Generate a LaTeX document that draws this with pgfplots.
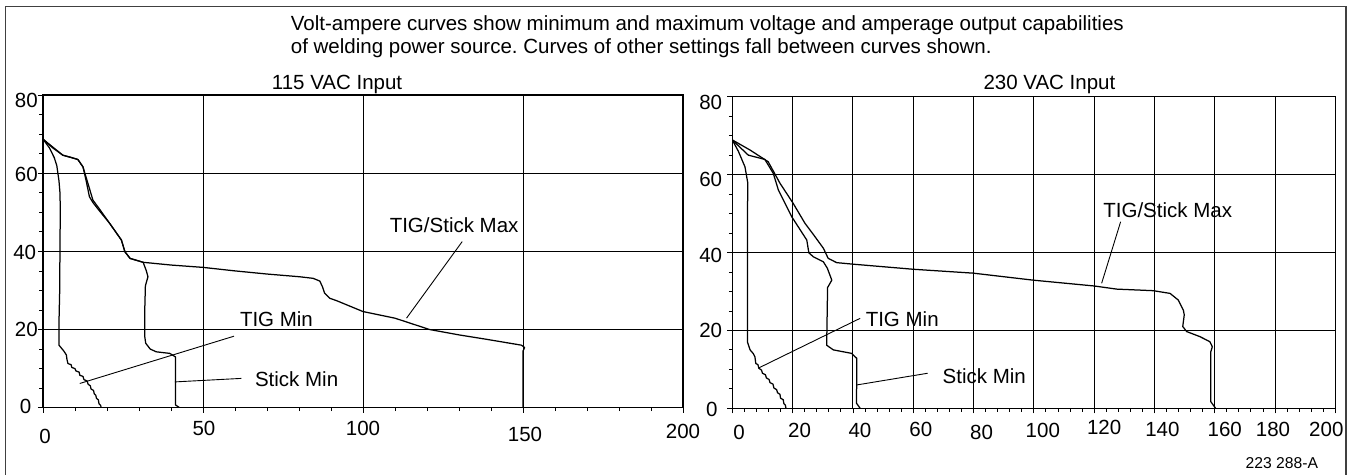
\documentclass[border=0pt]{standalone}
\usepackage{pgfplots}
\pgfplotsset{compat=1.18}
\usepackage{fontspec}
\setmainfont{Liberation Sans}
\frenchspacing
\newcommand\xl[3]{\raisebox{#2}{\ifdim#1>0pt\kern#1\kern#1\fi#3\ifdim#1<0pt\kern-#1\kern-#1\fi}}
\newcommand\yl[3]{\raisebox{#2}{#3\kern#1}}
\newcommand\lf{\fontsize{20.5}{24}\selectfont}
\pgfplotsset{
  va/.style={
    scale only axis,
    xmin=0,xmax=200,ymin=0,ymax=80,
    axis line style={line width=1.2pt},
    grid=major,
    major grid style={black,line width=0.9pt},
    tick align=outside,
    xtick pos=bottom, ytick pos=left,
    major tick length=5pt, minor tick length=3.5pt,
    every tick/.append style={black,line width=0.8pt},
    ytick={0,20,40,60,80},
    minor y tick num=3,
    minor x tick num=4,
    tick label style={font=\lf, inner sep=0pt},
    xticklabel style={anchor=base},
    yticklabel style={anchor=base east, yshift=-7.3pt},
  },
  cv/.style={black,mark=none,line width=1.25pt,line join=round},
}
\begin{document}
\begin{tikzpicture}
\useasboundingbox (0,0) rectangle (1352pt,-474pt);
% frame
\draw[line width=1.8pt, black!75] (5.5pt,-490pt) -- (5.5pt,-6.5pt) -- (1346pt,-6.5pt) -- (1346pt,-490pt);
\node[anchor=base west, inner sep=0pt, font=\lf] at (290.7pt,-30pt) {Volt-ampere curves show minimum and maximum voltage and amperage output capabilities};
\node[anchor=base west, inner sep=0pt, font=\lf] at (290.7pt,-53.3pt) {of welding power source. Curves of other settings fall between curves shown.};
\node[anchor=base west, inner sep=0pt, font=\lf] at (271.7pt,-89.3pt) {115 VAC Input};
\node[anchor=base west, inner sep=0pt, font=\lf] at (983.3pt,-89.3pt) {230 VAC Input};
\node[anchor=base east, inner sep=0pt, font=\fontsize{15.7}{18}\selectfont] at (1318.3pt,-468.3pt) {223 288-A};

% ---------- 115 VAC ----------
\begin{axis}[va,
  at={(43pt,-407.7pt)}, anchor=south west, width=640pt, height=312.7pt,
  xtick={0,50,100,150,200},
  xticklabels={\xl{2pt}{-5pt}{0},\xl{1pt}{3pt}{50},\xl{0pt}{3pt}{100},\xl{2pt}{-3.7pt}{150},\xl{0pt}{0pt}{200}},
  xticklabel style={yshift=-25.3pt},
  yticklabels={\yl{6.5pt}{1.7pt}{0},\yl{0pt}{0pt}{20},\yl{1.7pt}{-1pt}{40},\yl{0pt}{-1pt}{60},\yl{0pt}{-5.5pt}{80}},
]
% TIG Min
\addplot[cv] coordinates {(0,68.7) (2,66.5) (3.5,64) (4.3,62) (5,58) (5.3,55) (5.4,51) (5.3,40) (5.2,29.3) (5.0,22) (5.0,16.0) (6.5,14.5) (7.3,13.5) (7.5,12.3) (7.8,11.3) (8.8,11.0) (9,10.3) (10,10) (10.3,9.4) (11.3,9.1) (11.5,8.3) (12.5,8) (12.8,7.2) (13.8,6.8) (14.1,6.0) (14.8,5.6) (15,4.8) (15.8,4.4) (16,3.6) (16.5,3.2) (16.7,2.4) (17.3,2.0) (17.5,1.0) (18,0.6) (18.2,0)};
% TIG/Stick Max
\addplot[cv] coordinates {(0,68.7) (3,66.5) (6.2,64.6) (9,64) (10.9,63.5) (12.5,61.6) (14,57.5) (15.6,53.1) (17.5,51) (20.8,47.2) (24.5,42.9) (25.6,39.9) (27.2,38.2) (31.3,37.2) (40,36.5) (50,35.9) (60,35) (70,34.2) (80.2,33.5) (84.4,33.1) (86.5,32.4) (87.3,31) (88,29.3) (89.6,28.0) (91.7,27.4) (100,24.6) (110,22.9) (120.8,20) (130.2,18.6) (138.6,17.5) (149.5,16.0) (150.5,15.4) (150,14.5) (150,0)};
% Stick Min
\addplot[cv] coordinates {(0,68.7) (6.2,64.6) (10.9,63.5) (12.5,61.6) (13.5,58) (14.5,54) (15.6,52.5) (17.5,50.5) (20.8,47.2) (24.5,42.9) (25.6,39.9) (27.2,38.2) (31.3,37.2) (32.3,35) (32.8,33.5) (32,31.2) (31.8,25) (31.8,18.2) (32.1,16.5) (33.5,15) (35.4,14.3) (39.6,13.9) (41.4,13.0) (41.4,0.7) (42.7,0)};
\node[anchor=base west, inner sep=0pt, font=\lf] at (axis cs:61.5,20.7) {TIG Min};
\node[anchor=base west, inner sep=0pt, font=\lf] at (axis cs:66.2,5.4) {Stick Min};
\node[anchor=base west, inner sep=0pt, font=\lf] at (axis cs:108.3,44.8) {TIG/Stick Max};
\draw[line width=0.9pt] (axis cs:59.7,18.3) -- (axis cs:11.5,6.2);
\draw[line width=0.9pt] (axis cs:62,7.5) -- (axis cs:41.2,6.6);
\draw[line width=0.9pt] (axis cs:131,42.5) -- (axis cs:113.6,22.9);
\end{axis}

% ---------- 230 VAC ----------
\begin{axis}[va,
  at={(732.3pt,-408.3pt)}, anchor=south west, width=603pt, height=311.6pt,
  xtick={0,20,...,200},
  xticklabels={\xl{6.7pt}{-3pt}{0},\xl{7pt}{-1pt}{20},\xl{7pt}{-1pt}{40},\xl{7.6pt}{0pt}{60},\xl{8pt}{-3pt}{80},\xl{9pt}{-1.3pt}{100},\xl{10pt}{2pt}{120},\xl{8pt}{0.3pt}{140},\xl{10pt}{0pt}{160},\xl{-2pt}{0pt}{180},\xl{-9pt}{0pt}{200}},
  xticklabel style={yshift=-23pt},
  yticklabels={\yl{4.5pt}{-0.7pt}{0},\yl{0pt}{0pt}{20},\yl{0pt}{-3pt}{40},\yl{0pt}{-4.4pt}{60},\yl{0pt}{-5pt}{80}},
  yticklabel style={xshift=-5pt},
]
% TIG Min
\addplot[cv] coordinates {(0,68.9) (2,66) (4.2,62.0) (5.1,58) (5.1,55.2) (5.0,45) (5.0,34.7) (5.0,17.1) (5.9,15.0) (7.0,14) (7.5,13.2) (7.8,11.5) (8.5,11.2) (8.8,10.3) (9.7,9.8) (10,9.0) (11,8.6) (11.3,7.8) (12.2,7.4) (12.5,6.6) (13.5,6.2) (13.8,5.2) (14.7,4.8) (15,4.0) (15.8,3.6) (16,2.6) (16.9,2.2) (17.1,1.2) (17.6,0.8) (17.8,0)};
% TIG/Stick Max
\addplot[cv] coordinates {(0,68.9) (5.9,66.3) (9.7,64.4) (11.9,63.3) (15.8,57.8) (20.2,52.6) (24.1,47.5) (27,44.5) (30.2,41.1) (31.8,38.5) (34.6,37.4) (40.1,37.0) (60,35.7) (79.9,34.7) (99.8,32.9) (120.1,31.4) (127.5,30.6) (139.6,30.2) (145.2,29.5) (147.9,27.8) (149.6,25.2) (149.9,24.0) (149.4,21.0) (150.7,19.7) (155.1,18.4) (158.4,17.1) (159.2,15.8) (158.7,14.5) (158.7,1.7) (160.3,0)};
% Stick Min
\addplot[cv] coordinates {(0,68.9) (5.3,65.0) (10.8,63.9) (13.6,60.3) (15.3,56.0) (19.7,49.2) (24.7,43.2) (25.4,39.9) (26.9,38.9) (30.2,37.6) (31.5,36) (33.0,32.9) (31.6,31.0) (31.3,16.2) (33.5,15.0) (39.6,14.1) (41.3,12.8) (41.2,1.3) (42.4,0)};
\node[anchor=base west, inner sep=0pt, font=\lf] at (axis cs:44.2,20.9) {TIG Min};
\node[anchor=base west, inner sep=0pt, font=\lf] at (axis cs:69.7,6.4) {Stick Min};
\node[anchor=base west, inner sep=0pt, font=\lf] at (axis cs:123.0,49.0) {TIG/Stick Max};
\draw[line width=0.9pt] (axis cs:42.4,23.1) -- (axis cs:8.6,10.3);
\draw[line width=0.9pt] (axis cs:64.8,9.0) -- (axis cs:41.3,6.0);
\draw[line width=0.9pt] (axis cs:128.8,47.9) -- (axis cs:122.5,32.1);
\end{axis}
\end{tikzpicture}
\end{document}
